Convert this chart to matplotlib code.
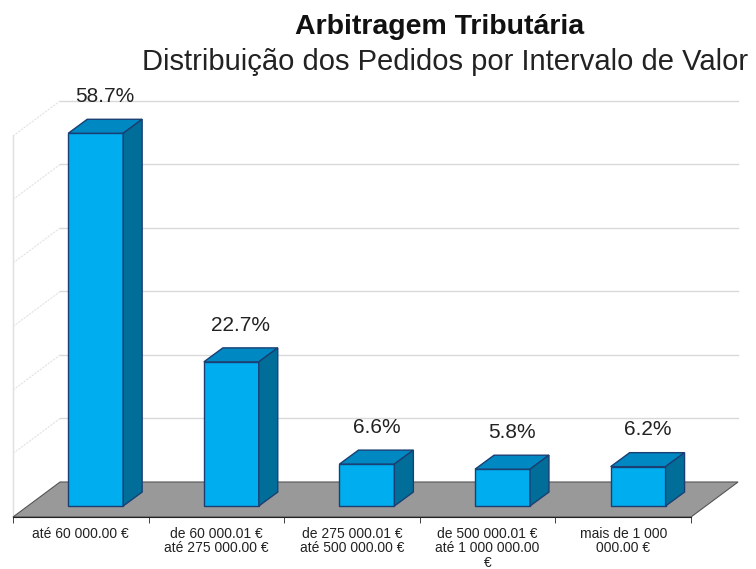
import numpy as np
import matplotlib.pyplot as plt
from matplotlib.patches import Polygon

plt.rcParams['font.family'] = ['Liberation Sans', 'DejaVu Sans']

# data
categories = ['até 60 000.00 €',
              'de 60 000.01 €\naté 275 000.00 €',
              'de 275 000.01 €\naté 500 000.00 €',
              'de 500 000.01 €\naté 1 000 000.00\n€',
              'mais de 1 000\n000.00 €']
values = [58.7, 22.7, 6.6, 5.8, 6.2]
grid_steps = [10, 20, 30, 40, 50, 60]

# pseudo 3D geometry (data units)
bar_w = 0.405
bar_shift = 0.11
depth_x, depth_y = 0.14, 2.2        # bar depth
floor_dx, floor_dy = 0.347, 3.78    # floor / wall depth
y_bottom = -1.732

front_col = '#00AEEF'
top_col = '#0088C2'
side_col = '#006E99'
edge_col = '#1B3F73'

fig = plt.figure(figsize=(7.56, 5.69), dpi=100)
ax = fig.add_axes([13 / 756, 52 / 569, 678 / 756, 416 / 569])
ax.set_xlim(-0.5, 4.5)
ax.set_ylim(y_bottom, 63.78)

# walls: back gridlines + left wall diagonals
for g in grid_steps:
    ax.plot([-0.5 + floor_dx, 4.5 + floor_dx], [floor_dy + g, floor_dy + g],
            color='#d9d9d9', lw=1, clip_on=False, zorder=1)
    ax.plot([-0.5, -0.5 + floor_dx], [y_bottom + g, floor_dy + g],
            color='#e3e3e3', lw=0.8, ls=(0, (2, 1)), clip_on=False, zorder=1)
ax.plot([-0.5, -0.5], [y_bottom, y_bottom + grid_steps[-1]],
        color='#e0e0e0', lw=1, clip_on=False, zorder=1)

# floor
floor = Polygon([(-0.5, y_bottom), (4.5, y_bottom),
                 (4.5 + floor_dx, floor_dy), (-0.5 + floor_dx, floor_dy)],
                closed=True, facecolor='#999999', edgecolor='#555555',
                lw=0.8, clip_on=False, zorder=2)
ax.add_patch(floor)

# bars
x = np.arange(len(values)) + bar_shift
ax.bar(x, values, width=bar_w, color=front_col, edgecolor=edge_col,
       lw=1, zorder=4)
for xi, v in zip(x, values):
    l, r = xi - bar_w / 2, xi + bar_w / 2
    top = Polygon([(l, v), (r, v), (r + depth_x, v + depth_y),
                   (l + depth_x, v + depth_y)], closed=True,
                  facecolor=top_col, edgecolor=edge_col, lw=1, zorder=4,
                  clip_on=False)
    side = Polygon([(r, 0), (r + depth_x, depth_y), (r + depth_x, v + depth_y),
                    (r, v)], closed=True, facecolor=side_col,
                   edgecolor=edge_col, lw=1, zorder=4, clip_on=False)
    ax.add_patch(top)
    ax.add_patch(side)
    ax.text(xi + 0.07, v + 5.8, f'{v:.1f}%', ha='center', va='center',
            fontsize=15, color='#222222', clip_on=False, zorder=5)

# axis
for s in ['top', 'right', 'left']:
    ax.spines[s].set_visible(False)
ax.spines['bottom'].set_color('#222222')
ax.set_yticks([])
ax.set_xticks(np.arange(len(categories)))
ax.set_xticklabels(categories, fontsize=10, color='#222222', linespacing=1.05)
ax.tick_params(axis='x', which='major', length=0, pad=7)
ax.set_xticks(np.arange(len(categories) + 1) - 0.5, minor=True)
ax.tick_params(axis='x', which='minor', length=4, color='#222222')

fig.text(440 / 756, 1 - 27 / 569, 'Arbitragem Tributária', ha='center',
         va='center', fontsize=20.5, fontweight='bold', color='#111111')
fig.text(445 / 756, 1 - 62 / 569, 'Distribuição dos Pedidos por Intervalo de Valor',
         ha='center', va='center', fontsize=21, color='#222222')

fig.savefig('out.png', dpi=100)
